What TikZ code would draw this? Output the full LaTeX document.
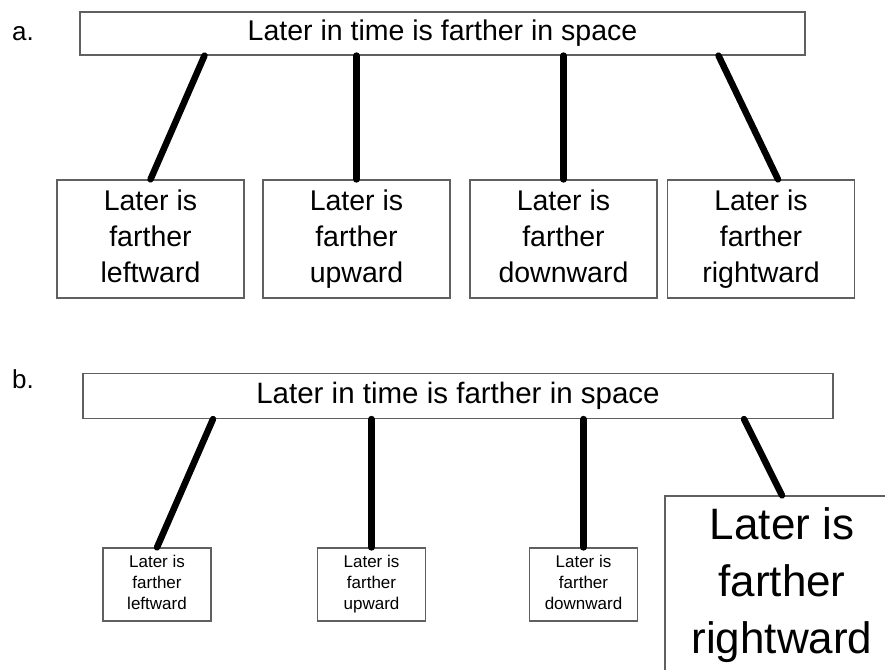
\documentclass[tikz,border=0pt]{standalone}
\usepackage{fontspec}
\setmainfont{Liberation Sans}
\newcommand{\threelines}[1]{\strut Later is\\farther\\#1\strut}
\tikzset{
  box/.style={draw=gray!75!black, line width=1.2pt, fill=white, align=center, inner sep=0pt},
  link/.style={line width=6.5pt, line cap=round},
  panel/.style={font=\fontsize{26}{30}\selectfont},
}
\begin{document}
\begin{tikzpicture}[x=1pt,y=-1pt]
  \useasboundingbox (0,0) rectangle (885,669);
  \clip (0,0) rectangle (885,669);
  % panel a
  \node[panel] (labA) at (23,34) {a.};
  \node[box, minimum width=725pt, minimum height=43pt, font=\fontsize{28.5}{34}\selectfont]
    (topA) at (442.5,33.5) {Later in time is farther in space};
  \begin{scope}[every node/.style={box, minimum width=187pt, minimum height=118pt, font=\fontsize{28.5}{36}\selectfont}]
    \node (leftA) at (150.5,239) {\threelines{leftward}};
    \node (upA) at (356.5,239) {\threelines{upward}};
    \node (downA) at (563.5,239) {\threelines{downward}};
    \node (rightA) at (761,239) {\threelines{rightward}};
  \end{scope}
  \draw[link] ([xshift=-238pt]topA.south) -- (leftA.north);
  \draw[link] (topA.south -| upA.north) -- (upA.north);
  \draw[link] (topA.south -| downA.north) -- (downA.north);
  \draw[link] ([xshift=276pt]topA.south) -- ([xshift=17pt]rightA.north);
  % panel b
  \node[panel] (labB) at (23,379) {b.};
  \node[box, minimum width=750pt, minimum height=45pt, font=\fontsize{29.5}{35}\selectfont]
    (topB) at (458,396) {Later in time is farther in space};
  \begin{scope}[every node/.style={box, minimum width=108pt, minimum height=73pt, font=\fontsize{17}{21}\selectfont}]
    \node (leftB) at (157,584.5) {\threelines{leftward}};
    \node (upB) at (371.5,584.5) {\threelines{upward}};
    \node (downB) at (583.5,584.5) {\threelines{downward}};
  \end{scope}
  \node[box, minimum width=234pt, minimum height=178pt, font=\fontsize{44}{57}\selectfont]
    (rightB) at (782,585) {\threelines{rightward}};
  \draw[link] ([xshift=-245pt]topB.south) -- (leftB.north);
  \draw[link] (topB.south -| upB.north) -- (upB.north);
  \draw[link] (topB.south -| downB.north) -- (downB.north);
  \draw[link] ([xshift=286pt]topB.south) -- (rightB.north);
\end{tikzpicture}
\end{document}
